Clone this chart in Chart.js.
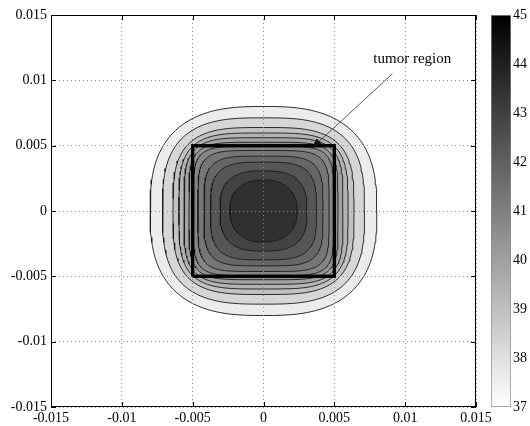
<!DOCTYPE html>
<html>
<head>
<meta charset="utf-8">
<script src="https://cdn.jsdelivr.net/npm/chart.js@4/dist/chart.umd.min.js"></script>
<style>
  body { margin: 0; background: #fff; }
  #wrap { position: relative; width: 530px; height: 426px; }
  #wrap canvas { position: absolute; left: 0; top: 0; }
</style>
</head>
<body>
<div id="wrap">
  <canvas id="contourChart" width="530" height="426"></canvas>
  <canvas id="colorbar" width="530" height="426"></canvas>
</div>
<script>
// Contour levels (temperature) and the half-size of each closed contour
const levels = [37.6, 38.3, 38.9, 39.4, 39.9, 40.4, 40.8, 41.3, 41.8, 42.3, 42.9, 43.5];
const contourRadius = [0.0080, 0.00713, 0.00639, 0.00597, 0.00561, 0.00526, 0.00495, 0.00463, 0.00420, 0.00374, 0.00307, 0.00238];
// squareness of each contour (2 = circle, larger = more square)
const contourExponent = [2.7, 3.0, 3.4, 3.8, 4.3, 5, 5.5, 5, 4.2, 3.5, 2.8, 2.3];

// tumor box outline
const tumorX = [-0.005, 0.005, 0.005, -0.005, -0.005];
const tumorY = [-0.005, -0.005, 0.005, 0.005, -0.005];

// axis ticks
const axisTicks = [-0.015, -0.01, -0.005, 0, 0.005, 0.01, 0.015];
const axisTickLabels = ['-0.015', '-0.01', '-0.005', '0', '0.005', '0.01', '0.015'];

// colorbar
const colorMin = 37;
const colorMax = 45;
const colorTicks = [37, 38, 39, 40, 41, 42, 43, 44, 45];

// annotation
const noteText = 'tumor region';
const noteAt = { x: 0.0105, y: 0.0116 };
const arrowFrom = { x: 0.0091, y: 0.0105 };
const arrowTo = { x: 0.0034, y: 0.0048 };

const FONT = 'Liberation Serif';

function grayFor(v) {
    const g = Math.round(255 * (colorMax - v) / (colorMax - colorMin));
    return `rgb(${g},${g},${g})`;
}

// closed superellipse outline for one contour
function contourPoints(r, n) {
    const pts = [];
    const steps = 160;
    for (let i = 0; i <= steps; i++) {
        const t = (i / steps) * Math.PI * 2;
        const c = Math.cos(t), s = Math.sin(t);
        pts.push({
            x: r * Math.sign(c) * Math.pow(Math.abs(c), 2 / n),
            y: r * Math.sign(s) * Math.pow(Math.abs(s), 2 / n)
        });
    }
    return pts;
}

const datasets = levels.map((lv, i) => ({
    data: contourPoints(contourRadius[i], contourExponent[i]),
    showLine: true,
    fill: 'shape',
    backgroundColor: grayFor(lv),
    borderColor: '#1a1a1a',
    borderWidth: 0.9,
    pointRadius: 0,
    tension: 0,
    order: levels.length - i + 1
}));

const TUMOR = datasets.length;
datasets.push({
    data: tumorX.map((x, i) => ({ x: x, y: tumorY[i] })),
    showLine: true,
    fill: false,
    borderColor: '#000',
    borderWidth: 3,
    pointRadius: 0,
    order: 0
});

// box around the plot, inward ticks and the arrow label
const frameAndNote = {
    id: 'frameAndNote',
    afterDraw(chart) {
        const { ctx, chartArea: a, scales } = chart;
        const sx = scales.x, sy = scales.y;

        // tumor outline again so it sits over the dotted grid
        chart.getDatasetMeta(TUMOR).controller.draw();

        ctx.save();
        ctx.strokeStyle = '#000';
        ctx.lineWidth = 1;
        ctx.strokeRect(a.left + 0.5, a.top + 0.5, a.right - a.left - 1, a.bottom - a.top - 1);
        ctx.beginPath();
        axisTicks.forEach(v => {
            const px = Math.round(sx.getPixelForValue(v)) + 0.5;
            ctx.moveTo(px, a.bottom); ctx.lineTo(px, a.bottom - 5);
            ctx.moveTo(px, a.top); ctx.lineTo(px, a.top + 5);
            const py = Math.round(sy.getPixelForValue(v)) + 0.5;
            ctx.moveTo(a.left, py); ctx.lineTo(a.left + 5, py);
            ctx.moveTo(a.right, py); ctx.lineTo(a.right - 5, py);
        });
        ctx.stroke();

        // annotation
        ctx.fillStyle = '#000';
        ctx.font = `15px "${FONT}"`;
        ctx.textAlign = 'center';
        ctx.textBaseline = 'middle';
        ctx.fillText(noteText, sx.getPixelForValue(noteAt.x), sy.getPixelForValue(noteAt.y));
        const x1 = sx.getPixelForValue(arrowFrom.x), y1 = sy.getPixelForValue(arrowFrom.y);
        const x2 = sx.getPixelForValue(arrowTo.x), y2 = sy.getPixelForValue(arrowTo.y);
        ctx.strokeStyle = '#333';
        ctx.lineWidth = 0.8;
        ctx.beginPath();
        ctx.moveTo(x1, y1); ctx.lineTo(x2, y2);
        ctx.stroke();
        const ang = Math.atan2(y2 - y1, x2 - x1);
        const len = 11, wid = 0.35;
        ctx.beginPath();
        ctx.moveTo(x2, y2);
        ctx.lineTo(x2 - len * Math.cos(ang - wid), y2 - len * Math.sin(ang - wid));
        ctx.lineTo(x2 - len * Math.cos(ang + wid), y2 - len * Math.sin(ang + wid));
        ctx.closePath();
        ctx.fillStyle = '#111';
        ctx.fill();
        ctx.restore();
    }
};

function axisOptions(extra) {
    return Object.assign({
        type: 'linear',
        min: -0.015,
        max: 0.015,
        afterBuildTicks: scale => { scale.ticks = axisTicks.map(v => ({ value: v })); },
        ticks: {
            color: '#000',
            font: { family: FONT, size: 14 },
            callback: (v, i) => axisTickLabels[i]
        },
        grid: {
            color: '#8a8a8a',
            lineWidth: 1,
            drawTicks: false,
            z: 1
        },
        border: { display: false, dash: [1, 3] }
    }, extra);
}

function createContourChart() {
    const ctx = document.getElementById('contourChart').getContext('2d');
    const xOpts = axisOptions({ afterFit: s => { s.height = 19; } });
    xOpts.ticks.padding = 3;
    const yOpts = axisOptions({ afterFit: s => { s.width = 51; } });
    yOpts.ticks.padding = 4;
    new Chart(ctx, {
        type: 'scatter',
        data: { datasets: datasets },
        options: {
            responsive: false,
            animation: false,
            layout: { padding: { top: 15, right: 54, left: 0, bottom: 0 } },
            plugins: { legend: { display: false }, tooltip: { enabled: false } },
            scales: { x: xOpts, y: yOpts }
        },
        plugins: [frameAndNote]
    });
}

function createColorbar() {
    const ctx = document.getElementById('colorbar').getContext('2d');
    new Chart(ctx, {
        type: 'bar',
        data: {
            labels: [''],
            datasets: [{
                data: [[colorMin, colorMax]],
                backgroundColor: c => {
                    const chart = c.chart;
                    if (!chart.chartArea) return '#888';
                    const sy = chart.scales.y;
                    const g = chart.ctx.createLinearGradient(0, sy.getPixelForValue(colorMin), 0, sy.getPixelForValue(colorMax));
                    g.addColorStop(0, grayFor(colorMin));
                    g.addColorStop(1, grayFor(colorMax));
                    return g;
                },
                borderColor: '#8c8c8c',
                borderWidth: 1,
                borderSkipped: false,
                barPercentage: 1,
                categoryPercentage: 1
            }]
        },
        options: {
            responsive: false,
            animation: false,
            layout: { padding: { top: 15, left: 491, right: 0, bottom: 19 } },
            plugins: { legend: { display: false }, tooltip: { enabled: false } },
            scales: {
                x: { display: false },
                y: {
                    position: 'right',
                    min: colorMin,
                    max: colorMax,
                    afterFit: s => { s.width = 19; },
                    afterBuildTicks: scale => { scale.ticks = colorTicks.map(v => ({ value: v })); },
                    ticks: { color: '#000', padding: 2, font: { family: FONT, size: 14 } },
                    grid: { display: false, drawTicks: false },
                    border: { display: false }
                }
            }
        }
    });
}

document.addEventListener('DOMContentLoaded', () => {
    createContourChart();
    createColorbar();
});
</script>
</body>
</html>
